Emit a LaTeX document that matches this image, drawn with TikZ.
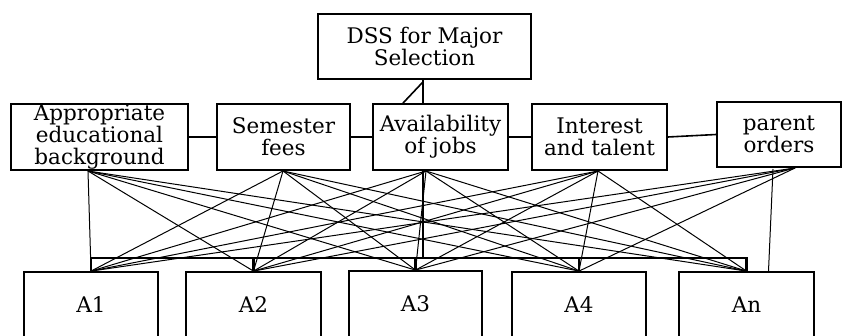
\documentclass[tikz,border=0pt]{standalone}
\usepackage{fontspec}
\setmainfont{DejaVu Serif}
\begin{document}
\begin{tikzpicture}[x=1pt,y=-1pt,
  box/.style={draw,line width=1.8pt,inner sep=0pt,align=center,
    font=\fontsize{21.5}{22}\selectfont},
  thin/.style={line width=1pt},
  link/.style={line width=1.6pt},
  heavy/.style={line width=2.6pt}]
\useasboundingbox (0,0) rectangle (842,336);
% top
\node[box,minimum width=213pt,minimum height=65pt] (dss) at (424.5,46.5) {DSS for Major\\Selection};
% criteria
\node[box,minimum width=177pt,minimum height=66pt] (c1) at (99.5,137) {Appropriate\\educational\\background};
\node[box,minimum width=133pt,minimum height=66pt] (c2) at (283.5,137) {Semester\\fees};
\node[box,minimum width=135pt,minimum height=66pt] (c3) at (440.5,137) {Availability\\of jobs};
\node[box,minimum width=135pt,minimum height=66pt] (c4) at (599.5,137) {Interest\\and talent};
\node[box,minimum width=124pt,minimum height=65pt] (c5) at (779,134.5) {parent\\orders};
% alternatives
\node[box,minimum width=134pt,minimum height=66pt] (a1) at (91,305) {A1};
\node[box,minimum width=135pt,minimum height=66pt] (a2) at (253.5,305) {A2};
\node[box,minimum width=133pt,minimum height=66pt] (a3) at (415.5,304) {A3};
\node[box,minimum width=134pt,minimum height=66pt] (a4) at (579,305) {A4};
\node[box,minimum width=135pt,minimum height=66pt] (an) at (746.5,305) {An};
% helper coordinates
\coordinate (j) at (423,0);
\coordinate (dg) at (403,0);
\coordinate (bar) at (0,258);
\coordinate (k1) at (88,171);
\coordinate (k2) at (283,171);
\coordinate (k3) at (426,171);
\coordinate (k4) at (598,171);
\coordinate (k5) at (795,168);
\coordinate (k5b) at (773,169);
% top connectors
\draw[heavy] (dss.south -| j) -- (c3.north -| j);
\draw[link] (c3.north -| dg) -- ([yshift=-2pt]dss.south -| j);
\draw[link] (c1.east) -- (c2.west);
\draw[link] (c2.east) -- (c3.west);
\draw[heavy] (c3.east) -- (c4.west);
\draw[link] (c4.east) -- (c5.west);
% bar
\draw[heavy] (c3.south -| j) -- (j |- bar);
\draw[line width=2.2pt] (a1.north) -- (a1.north |- bar) -- (an.north |- bar) -- (an.north);
\foreach \a in {a2,a3,a4} \draw[line width=2.2pt] (\a.north) -- (\a.north |- bar);
% crossing lines
\foreach \k in {k1,k2,k3,k4} {
  \foreach \a in {a1,a2,a3,a4,an} \draw[thin] (\k) -- (\a.north);
}
\foreach \a in {a1,a2,a3,a4} \draw[thin] (k5) -- (\a.north);
\draw[thin] (k5b) -- ([xshift=22pt]an.north);
\end{tikzpicture}
\end{document}
